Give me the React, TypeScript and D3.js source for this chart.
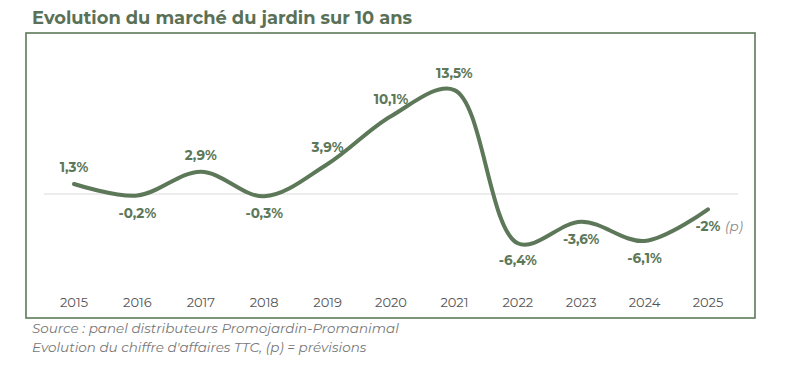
import React from "react";
import * as d3 from "d3";

const years = ["2015","2016","2017","2018","2019","2020","2021","2022","2023","2024","2025"];
const values = [1.3, -0.2, 2.9, -0.3, 3.9, 10.1, 13.5, -6.4, -3.6, -6.1, -2];
const labels = ["1,3%","-0,2%","2,9%","-0,3%","3,9%","10,1%","13,5%","-6,4%","-3,6%","-6,1%","-2%"];
const title = "Evolution du marché du jardin sur 10 ans";
const sourceLines = [
  "Source : panel distributeurs Promojardin-Promanimal",
  "Evolution du chiffre d'affaires TTC, (p) = prévisions",
];

const GREEN = "#5d7859";
const FONT = "Montserrat, 'Open Sans', sans-serif";

export default function App() {
  const W = 800, H = 375;
  const x = d3.scalePoint<string>().domain(years).range([74, 708]);
  const y = d3.scaleLinear().domain([-8, 14]).range([194 + 8 * 7.7, 194 - 14 * 7.7]);
  const line = d3
    .line<number>()
    .x((_, i) => x(years[i]) as number)
    .y((d) => y(d))
    .curve(d3.curveCatmullRom.alpha(0.5));
  const path = line(values) || "";
  return (
    <svg width={W} height={H} style={{ position: "absolute", left: 0, top: 0 }} fontFamily={FONT}>
      <rect x={0} y={0} width={W} height={H} fill="#fff" />
      <text x={32} y={24} fontSize={17.5} fontWeight={700} fill="#5a7157" textLength={380} lengthAdjust="spacingAndGlyphs">
        {title}
      </text>
      <rect x={26} y={33} width={729} height={285} fill="none" stroke={GREEN} strokeWidth={1.6} />
      <line x1={44} x2={738} y1={y(0)} y2={y(0)} stroke="#d9d9d9" strokeWidth={1.2} />
      <path d={path} fill="none" stroke={GREEN} strokeWidth={4} strokeLinecap="round" />
      {values.map((v, i) => {
        const cx = x(years[i]) as number;
        const ty = v >= 0 ? y(v) - 12 : y(v) + 22;
        return (
          <g key={i}>
            <text x={cx} y={ty} textAnchor="middle" fontSize={13.5} fontWeight={700} fill={GREEN}>
              {labels[i]}
            </text>
            {i === years.length - 1 ? (
              <text x={cx + 17} y={ty} fontSize={13.5} fontStyle="italic" fill="#888">(p)</text>
            ) : null}
          </g>
        );
      })}
      {years.map((yr) => (
        <text key={yr} x={x(yr) as number} y={307} textAnchor="middle" fontSize={13} fill="#555">
          {yr}
        </text>
      ))}
      {sourceLines.map((s, i) => (
        <text key={i} x={32} y={333 + i * 19} fontSize={13.5} fontStyle="italic" fill="#777">
          {s}
        </text>
      ))}
    </svg>
  );
}
